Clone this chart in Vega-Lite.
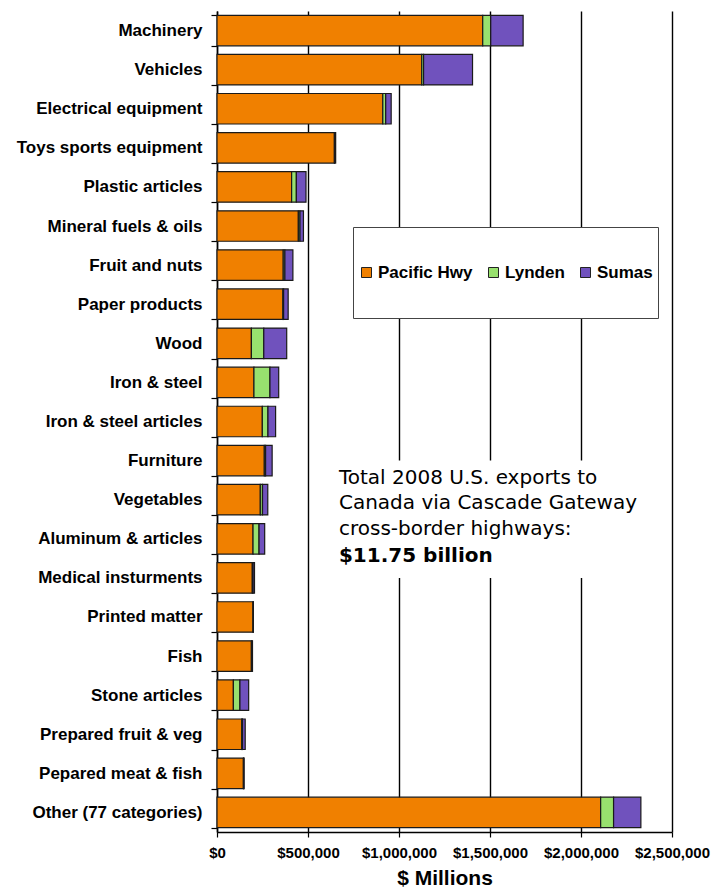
{
  "$schema": "https://vega.github.io/schema/vega-lite/v6.json",
  "width": 455,
  "height": 821,
  "autosize": {"type": "none"},
  "padding": {"left": 217, "top": 11, "right": 49, "bottom": 58},
  "background": "white",
  "config": {"view": {"stroke": null}, "font": "Liberation Sans"},
  "data": {"values": [
    {"category": "Machinery", "crossing": "Pacific Hwy", "value": 1460000},
    {"category": "Machinery", "crossing": "Lynden", "value": 44000},
    {"category": "Machinery", "crossing": "Sumas", "value": 178000},
    {"category": "Vehicles", "crossing": "Pacific Hwy", "value": 1125000},
    {"category": "Vehicles", "crossing": "Lynden", "value": 10000},
    {"category": "Vehicles", "crossing": "Sumas", "value": 269000},
    {"category": "Electrical equipment", "crossing": "Pacific Hwy", "value": 911000},
    {"category": "Electrical equipment", "crossing": "Lynden", "value": 16000},
    {"category": "Electrical equipment", "crossing": "Sumas", "value": 30000},
    {"category": "Toys sports equipment", "crossing": "Pacific Hwy", "value": 645000},
    {"category": "Toys sports equipment", "crossing": "Lynden", "value": 2000},
    {"category": "Toys sports equipment", "crossing": "Sumas", "value": 5000},
    {"category": "Plastic articles", "crossing": "Pacific Hwy", "value": 410000},
    {"category": "Plastic articles", "crossing": "Lynden", "value": 26000},
    {"category": "Plastic articles", "crossing": "Sumas", "value": 53000},
    {"category": "Mineral fuels & oils", "crossing": "Pacific Hwy", "value": 447000},
    {"category": "Mineral fuels & oils", "crossing": "Lynden", "value": 9000},
    {"category": "Mineral fuels & oils", "crossing": "Sumas", "value": 19000},
    {"category": "Fruit and nuts", "crossing": "Pacific Hwy", "value": 364000},
    {"category": "Fruit and nuts", "crossing": "Lynden", "value": 9000},
    {"category": "Fruit and nuts", "crossing": "Sumas", "value": 44000},
    {"category": "Paper products", "crossing": "Pacific Hwy", "value": 362000},
    {"category": "Paper products", "crossing": "Lynden", "value": 4000},
    {"category": "Paper products", "crossing": "Sumas", "value": 25000},
    {"category": "Wood", "crossing": "Pacific Hwy", "value": 189000},
    {"category": "Wood", "crossing": "Lynden", "value": 68000},
    {"category": "Wood", "crossing": "Sumas", "value": 126000},
    {"category": "Iron & steel", "crossing": "Pacific Hwy", "value": 203000},
    {"category": "Iron & steel", "crossing": "Lynden", "value": 88000},
    {"category": "Iron & steel", "crossing": "Sumas", "value": 48000},
    {"category": "Iron & steel articles", "crossing": "Pacific Hwy", "value": 249000},
    {"category": "Iron & steel articles", "crossing": "Lynden", "value": 31000},
    {"category": "Iron & steel articles", "crossing": "Sumas", "value": 42000},
    {"category": "Furniture", "crossing": "Pacific Hwy", "value": 260000},
    {"category": "Furniture", "crossing": "Lynden", "value": 7000},
    {"category": "Furniture", "crossing": "Sumas", "value": 36000},
    {"category": "Vegetables", "crossing": "Pacific Hwy", "value": 238000},
    {"category": "Vegetables", "crossing": "Lynden", "value": 12000},
    {"category": "Vegetables", "crossing": "Sumas", "value": 29000},
    {"category": "Aluminum & articles", "crossing": "Pacific Hwy", "value": 198000},
    {"category": "Aluminum & articles", "crossing": "Lynden", "value": 33000},
    {"category": "Aluminum & articles", "crossing": "Sumas", "value": 31000},
    {"category": "Medical insturments", "crossing": "Pacific Hwy", "value": 194000},
    {"category": "Medical insturments", "crossing": "Lynden", "value": 4000},
    {"category": "Medical insturments", "crossing": "Sumas", "value": 8000},
    {"category": "Printed matter", "crossing": "Pacific Hwy", "value": 198000},
    {"category": "Printed matter", "crossing": "Lynden", "value": 1000},
    {"category": "Printed matter", "crossing": "Sumas", "value": 1000},
    {"category": "Fish", "crossing": "Pacific Hwy", "value": 189000},
    {"category": "Fish", "crossing": "Lynden", "value": 3000},
    {"category": "Fish", "crossing": "Sumas", "value": 3000},
    {"category": "Stone articles", "crossing": "Pacific Hwy", "value": 90000},
    {"category": "Stone articles", "crossing": "Lynden", "value": 36000},
    {"category": "Stone articles", "crossing": "Sumas", "value": 48000},
    {"category": "Prepared fruit & veg", "crossing": "Pacific Hwy", "value": 136000},
    {"category": "Prepared fruit & veg", "crossing": "Lynden", "value": 4000},
    {"category": "Prepared fruit & veg", "crossing": "Sumas", "value": 15000},
    {"category": "Pepared meat & fish", "crossing": "Pacific Hwy", "value": 145000},
    {"category": "Pepared meat & fish", "crossing": "Lynden", "value": 2000},
    {"category": "Pepared meat & fish", "crossing": "Sumas", "value": 2000},
    {"category": "Other (77 categories)", "crossing": "Pacific Hwy", "value": 2108000},
    {"category": "Other (77 categories)", "crossing": "Lynden", "value": 71000},
    {"category": "Other (77 categories)", "crossing": "Sumas", "value": 150000}
  ]},
  "layer": [
    {
      "transform": [{"calculate": "indexof(['Pacific Hwy', 'Lynden', 'Sumas'], datum.crossing)", "as": "stackOrder"}],
      "mark": {"type": "bar", "stroke": "#1a1a1a", "strokeWidth": 1.2},
      "encoding": {
        "y": {
          "field": "category", "type": "nominal", "sort": null,
          "scale": {
            "domain": ["Machinery", "Vehicles", "Electrical equipment", "Toys sports equipment", "Plastic articles", "Mineral fuels & oils", "Fruit and nuts", "Paper products", "Wood", "Iron & steel", "Iron & steel articles", "Furniture", "Vegetables", "Aluminum & articles", "Medical insturments", "Printed matter", "Fish", "Stone articles", "Prepared fruit & veg", "Pepared meat & fish", "Other (77 categories)"],
            "paddingInner": 0.22, "paddingOuter": 0.11
          },
          "axis": {
            "title": null, "grid": false, "tickBand": "extent",
            "domainColor": "#000", "domainWidth": 1.5,
            "tickColor": "#000", "tickSize": 6, "tickWidth": 1.2,
            "labelFont": "Liberation Sans", "labelFontWeight": "bold", "labelFontSize": 17,
            "labelColor": "#000", "labelPadding": 9, "labelLimit": 250
          }
        },
        "x": {
          "field": "value", "type": "quantitative", "stack": "zero",
          "scale": {"domain": [0, 2500000], "nice": false},
          "axis": {
            "title": "$ Millions", "values": [0, 500000, 1000000, 1500000, 2000000, 2500000],
            "format": "$,.0f", "grid": true, "gridColor": "#000", "gridWidth": 1.4,
            "domainColor": "#000", "domainWidth": 1.5, "tickColor": "#000", "tickSize": 5, "tickWidth": 1.2,
            "labelFont": "Liberation Sans", "labelFontSize": 15, "labelFontWeight": "bold", "labelColor": "#000",
            "labelPadding": 8, "labelFlush": false, "labelOverlap": false,
            "titleFont": "Liberation Sans", "titleFontSize": 21, "titleFontWeight": "bold", "titleColor": "#000", "titlePadding": 7
          }
        },
        "order": {"field": "stackOrder", "type": "quantitative", "sort": "ascending"},
        "color": {
          "field": "crossing", "type": "nominal",
          "scale": {"domain": ["Pacific Hwy", "Lynden", "Sumas"], "range": ["#F08000", "#98E16E", "#7052BD"]},
          "legend": {
            "orient": "none", "legendX": 136, "legendY": 216, "direction": "horizontal", "title": null,
            "fillColor": "white", "strokeColor": "#444", "padding": 5,
            "symbolType": "square", "symbolSize": 100, "symbolStrokeColor": "#222", "symbolStrokeWidth": 1, "symbolOpacity": 1,
            "labelFont": "Liberation Sans", "labelFontSize": 17, "labelFontWeight": "bold", "labelColor": "#000",
            "labelOffset": 3, "columnPadding": 12, "clipHeight": 81
          }
        }
      }
    },
    {
      "data": {"values": [{}]},
      "mark": {"type": "rect", "fill": "white"},
      "encoding": {
        "x": {"datum": 652000, "type": "quantitative"},
        "x2": {"datum": 2347000},
        "y": {"datum": "Furniture", "type": "nominal"},
        "y2": {"datum": "Medical insturments"}
      }
    },
    {
      "data": {"values": [{}]},
      "mark": {"type": "text", "text": ["Total 2008 U.S. exports to", "Canada via Cascade Gateway", "cross-border highways:"],
        "font": "DejaVu Sans", "fontSize": 20, "lineHeight": 25.8, "align": "left", "baseline": "middle", "dy": -22, "color": "#000"},
      "encoding": {
        "x": {"datum": 670000, "type": "quantitative"},
        "y": {"datum": "Vegetables", "type": "nominal"}
      }
    },
    {
      "data": {"values": [{}]},
      "mark": {"type": "text", "text": "$11.75 billion",
        "font": "DejaVu Sans", "fontSize": 20, "fontWeight": "bold", "align": "left", "baseline": "middle", "dy": 56, "color": "#000"},
      "encoding": {
        "x": {"datum": 670000, "type": "quantitative"},
        "y": {"datum": "Vegetables", "type": "nominal"}
      }
    }
  ]
}
